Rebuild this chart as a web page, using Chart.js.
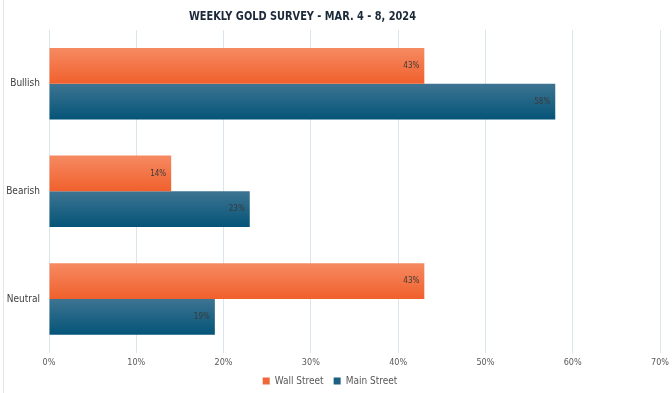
<!DOCTYPE html>
<html>
<head>
<meta charset="utf-8">
<script src="https://cdn.jsdelivr.net/npm/chart.js@4"></script>
<style>
  html, body { margin: 0; padding: 0; background: #fff; }
  #wrap { position: relative; width: 672px; height: 393px; }
</style>
</head>
<body>
<div id="wrap"><canvas id="goldChart" width="672" height="393"></canvas></div>
<script>
var categories = ["Bullish", "Bearish", "Neutral"];
var wallStreet = [43, 14, 43];
var mainStreet = [58, 23, 19];
var xTicks = [0, 10, 20, 30, 40, 50, 60, 70];
var chartTitle = "WEEKLY GOLD SURVEY - MAR. 4 - 8, 2024";

var FONT = "'Liberation Sans Narrow', 'DejaVu Sans Condensed', 'Liberation Sans', sans-serif";

// vertical gradient per bar (light top, darker bottom)
var gradientPlugin = {
  id: "barGradient",
  beforeDatasetsDraw: function (chart) {
    var ctx = chart.ctx;
    var stops = [
      ["rgb(246,138,98)", "rgb(240,96,44)"],
      ["rgb(62,116,146)", "rgb(4,84,120)"]
    ];
    chart.data.datasets.forEach(function (ds, i) {
      chart.getDatasetMeta(i).data.forEach(function (bar) {
        var top = bar.y - bar.height / 2;
        var g = ctx.createLinearGradient(0, top, 0, top + bar.height);
        g.addColorStop(0, stops[i][0]);
        g.addColorStop(1, stops[i][1]);
        // options are shared between bars, so give each bar its own copy
        bar.options = Object.assign({}, bar.options, { backgroundColor: g });
      });
    });
  }
};

// value labels at the inside end of each bar
var labelPlugin = {
  id: "valueLabels",
  afterDatasetsDraw: function (chart) {
    var ctx = chart.ctx;
    ctx.save();
    ctx.font = "8px " + FONT;
    ctx.fillStyle = "#3a3a3a";
    ctx.textAlign = "right";
    ctx.textBaseline = "middle";
    chart.data.datasets.forEach(function (ds, i) {
      chart.getDatasetMeta(i).data.forEach(function (bar, j) {
        ctx.fillText(ds.data[j] + "%", bar.x - 5, bar.y);
      });
    });
    ctx.restore();
  }
};

// title and thin frame line
var decorPlugin = {
  id: "decor",
  afterDraw: function (chart) {
    var ctx = chart.ctx;
    ctx.save();
    ctx.strokeStyle = "#e2e9ee";
    ctx.lineWidth = 1;
    ctx.beginPath();
    ctx.moveTo(3.5, 0);
    ctx.lineTo(3.5, chart.height);
    ctx.stroke();
    ctx.font = "bold 12px " + FONT;
    ctx.fillStyle = "#1c2939";
    ctx.textAlign = "left";
    ctx.textBaseline = "middle";
    var w = ctx.measureText(chartTitle).width;
    var sx = Math.min(1, 227 / w);
    ctx.translate(189, 16.5);
    ctx.scale(sx, 1);
    ctx.fillText(chartTitle, 0, 0);
    ctx.restore();
  }
};

new Chart(document.getElementById("goldChart").getContext("2d"), {
  type: "bar",
  data: {
    labels: categories,
    datasets: [
      { label: "Wall Street", data: wallStreet, backgroundColor: "#f0683a" },
      { label: "Main Street", data: mainStreet, backgroundColor: "#1c5f80" }
    ]
  },
  options: {
    indexAxis: "y",
    responsive: false,
    animation: false,
    categoryPercentage: 0.665,
    barPercentage: 1,
    layout: { padding: { top: 30, right: 12, bottom: -3, left: 0 } },
    scales: {
      x: {
        min: 0,
        max: 70,
        afterBuildTicks: function (scale) {
          scale.ticks = xTicks.map(function (v) { return { value: v }; });
        },
        afterFit: function (scale) {
          scale.height = scale.height - 7.5;
          scale.paddingRight = 0;
        },
        grid: { color: "#dbe5ec", drawTicks: false },
        border: { display: false },
        ticks: {
          padding: 5,
          color: "#595959",
          font: { family: FONT, size: 9 },
          callback: function (v) { return v + "%"; }
        }
      },
      y: {
        grid: { display: false, drawTicks: false },
        border: { display: false },
        afterFit: function (scale) { scale.width = 49; },
        ticks: {
          padding: 9,
          color: "#404040",
          font: { family: FONT, size: 10 }
        }
      }
    },
    plugins: {
      title: { display: false },
      tooltip: { enabled: false },
      legend: {
        position: "bottom",
        labels: {
          boxWidth: 7,
          boxHeight: 7,
          padding: 10,
          color: "#595959",
          font: { family: FONT, size: 10 }
        }
      }
    }
  },
  plugins: [gradientPlugin, labelPlugin, decorPlugin]
});
</script>
</body>
</html>
